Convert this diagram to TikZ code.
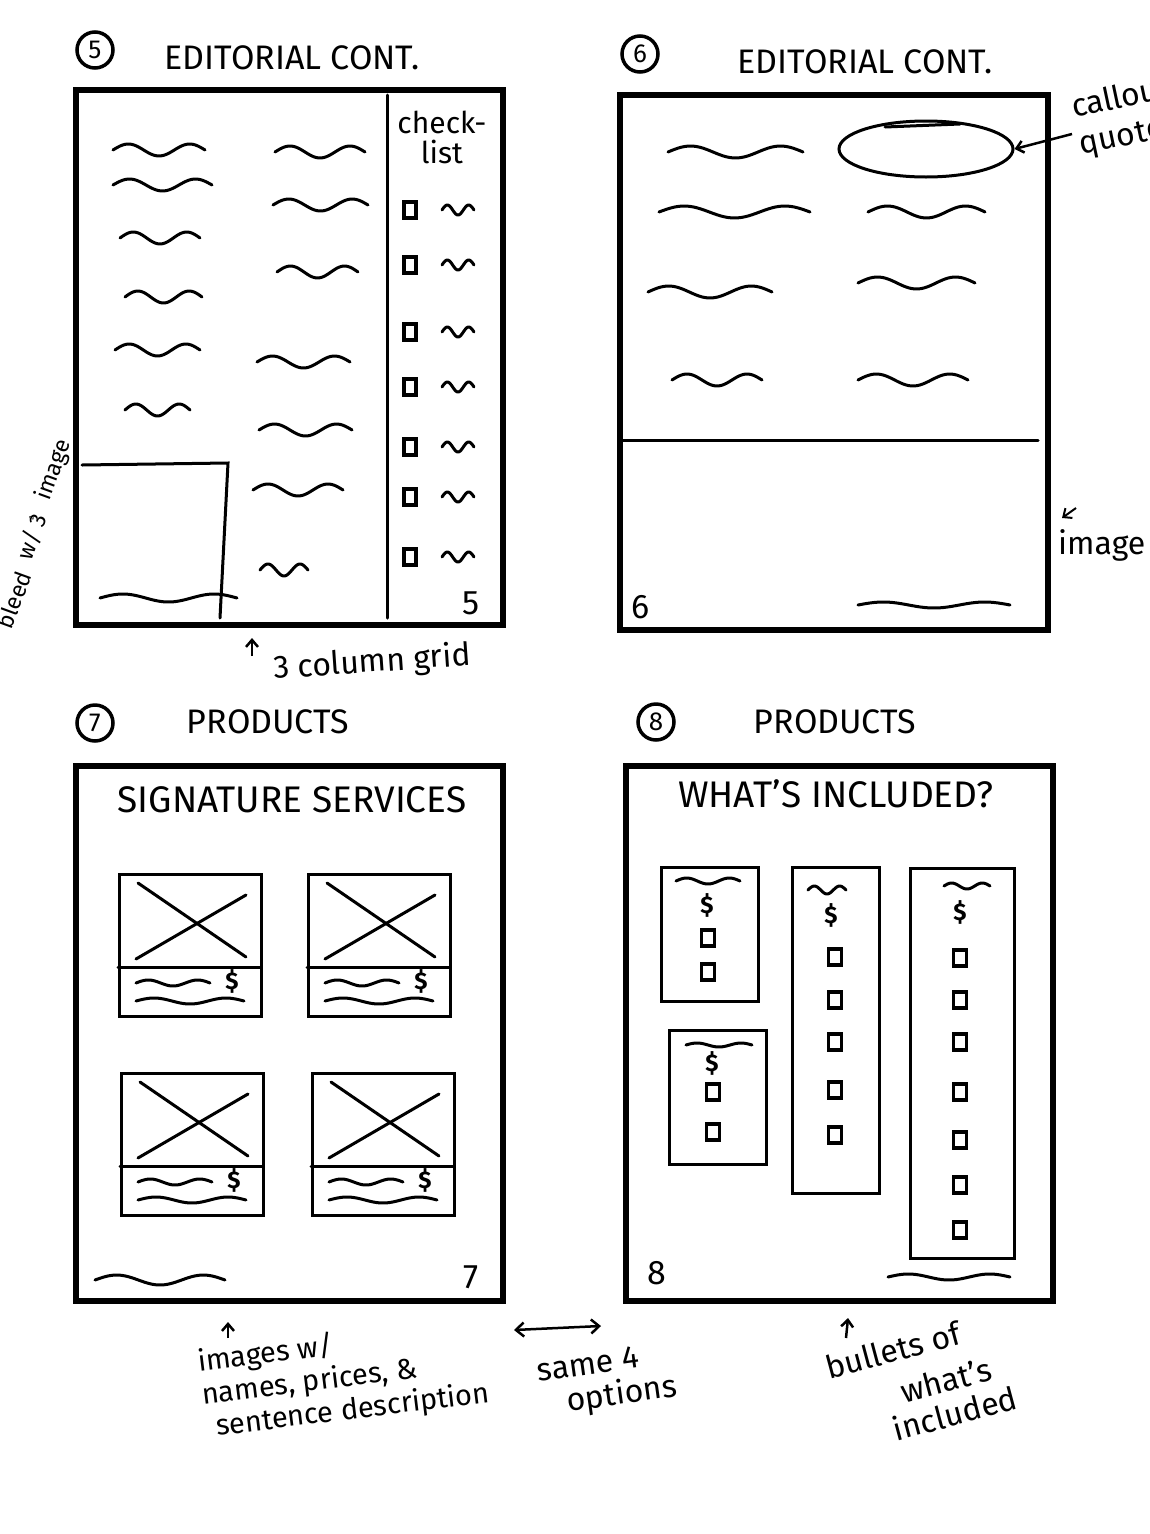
\documentclass[tikz,border=0pt]{standalone}
\usepackage{fontspec}
\setmainfont{Fira Sans}
\usetikzlibrary{positioning,shapes.geometric,arrows.meta}

\newcommand{\squig}[4][6]{%
  \pgfmathsetmacro\sqa{#2}\pgfmathsetmacro\sqb{#3}\pgfmathsetmacro\sqy{#4}%
  \pgfmathsetmacro\sqk{540/(\sqb-\sqa)}%
  \draw[squig] plot[variable=\t, domain=\sqa:\sqb, samples=40, smooth]
    (\t, {\sqy-#1*sin(\sqk*(\t-\sqa))});}

\begin{document}
\begin{tikzpicture}[
  x=1pt, y=-1pt,
  page/.style={draw, line width=5.5pt, inner sep=0pt, anchor=north west, minimum width=427pt, minimum height=535pt},
  rule/.style={line width=3pt, line cap=round},
  squig/.style={line width=3pt, line cap=round, line join=round},
  cbox/.style={draw, line width=3.2pt, minimum width=12pt, minimum height=16pt, inner sep=0pt},
  card/.style={draw, line width=3pt, inner sep=0pt, anchor=north west},
  num/.style={draw, circle, line width=3.5pt, inner sep=0pt, minimum size=36pt, font=\fontsize{26}{26}\selectfont},
  head/.style={font=\fontsize{34}{34}\selectfont},
  title/.style={font=\fontsize{37}{37}\selectfont},
  note/.style={font=\fontsize{32}{32}\selectfont, align=left, inner sep=0pt},
  side/.style={font=\fontsize{23}{23}\selectfont, rotate=70, inner sep=0pt},
  pgnum/.style={font=\fontsize{34}{34}\selectfont, inner sep=0pt},
  marrow/.style={-{Straight Barb[length=7pt,width=12pt]}, line width=2.5pt},
  darrow/.style={{Straight Barb[length=8pt,width=14pt]}-{Straight Barb[length=8pt,width=14pt]}, line width=2.5pt}
]
\useasboundingbox (0,0) rectangle (1150,1534);

% page 5
\node[num] (c5) at (95,50) {5};
\node[head] (h5) at (292,58) {EDITORIAL CONT.};
\node[page] (p5) at (73,87) {};
\draw[rule] (387,95) -- (387,618);
\draw[rule] (82,465) -- (228,463) -- (220,618);
\squig[4]{100}{237}{598}
\foreach \xa/\xb/\yy in {113/205/150, 113/212/185, 120/200/238, 125/202/297, 115/200/350, 125/190/410,
                         275/365/152, 273/368/205, 277/358/272, 257/350/362, 259/352/430, 253/343/490, 260/308/570}
  {\squig{\xa}{\xb}{\yy}}
\node[note, align=center, font=\fontsize{30}{30}\selectfont] (chk) at (442,137) {check-\\list};
\foreach \yy [count=\i] in {210,265,332,387,447,497,557} {
  \node[cbox] (cb\i) at (410,\yy) {};
  \squig[5]{442}{474}{\yy}
}
\node[pgnum] (n5) at (471,603) {5};
\node[note, rotate=4] (grid) at (372,663) {3 column grid};
\coordinate (gridtip) at (252,638);
\draw[marrow] (252,656) -- (gridtip);
\node[side] (bl1) at (54,470) {image};
\node[side] (bl2) at (32,537) {w/ \shortstack{\scriptsize 2\\[-6pt]3}};
\node[side] (bl3) at (14,600) {bleed};

% page 6
\node[num] (c6) at (640,54) {6};
\node[head] (h6) at (865,62) {EDITORIAL CONT.};
\node[page, minimum width=428pt] (p6) at (617,92) {};
\draw[rule] (623,440) -- (1038,440);
\node[draw, ellipse, line width=3pt, minimum width=174pt, minimum height=56pt] (quote) at (926,149) {};
\draw[squig] (885,127) -- (960,124);
\foreach \xa/\xb/\yy in {668/803/152, 659/810/212, 648/772/292, 672/762/380, 868/985/212, 858/975/283, 858/968/380}
  {\squig{\xa}{\xb}{\yy}}
\squig[3]{858}{1010}{605}
\node[pgnum] (n6) at (641,607) {6};
\node[note, rotate=12, anchor=west] (callout) at (1076,128) {callout\\[6pt]quote};
\coordinate (qtail) at (1072,134);
\draw[marrow] (qtail) -- (quote.east);
\node[note, anchor=west] (img6) at (1058,545) {image};
\coordinate (imgtip) at (1062,518);
\draw[marrow, line width=2pt] (1076,508) -- (imgtip);

% page 7
\node[num] (c7) at (95,723) {7};
\node[head] (h7) at (268,722) {PRODUCTS};
\node[page] (p7) at (73,763) {};
\node[title] (t7) at (292,800) {SIGNATURE SERVICES};
\foreach \cx/\cy [count=\i] in {118/873, 307/873, 120/1072, 311/1072} {
  \node[card, minimum width=142pt, minimum height=142pt] (sv\i) at (\cx,\cy) {};
  \draw[rule] (\cx,\cy+94) -- (\cx+142,\cy+94);
  \draw[rule] (\cx+20,\cy+10) -- (\cx+128,\cy+84);
  \draw[rule] (\cx+18,\cy+86) -- (\cx+128,\cy+22);
  \squig[3]{\cx+18}{\cx+92}{\cy+110}
  \squig[3]{\cx+18}{\cx+126}{\cy+128}
  \node[pgnum, font=\bfseries\fontsize{24}{24}\selectfont] (pr\i) at (\cx+114,\cy+108) {\$};
}
\squig[5]{95}{225}{1280}
\node[pgnum] (n7) at (471,1277) {7};
\node[note, rotate=7, anchor=north west, font=\fontsize{29}{33}\selectfont] (imgs) at (196,1348) {images w/\\names, prices, \&\\\hspace{10pt}sentence description};
\coordinate (imgstip) at (228,1322);
\draw[marrow] (228,1338) -- (imgstip);
\coordinate (sameL) at (514,1330);
\coordinate (sameR) at (601,1326);
\draw[darrow] (sameL) -- (sameR);
\node[note, rotate=8] (same1) at (588,1364) {same 4};
\node[note, rotate=8] (same2) at (622,1395) {options};

% page 8
\node[num] (c8) at (656,722) {8};
\node[head] (h8) at (835,722) {PRODUCTS};
\node[page] (p8) at (623,763) {};
\node[title] (t8) at (836,794) {WHAT'S INCLUDED?};
\node[card, minimum width=97pt, minimum height=134pt] (ka) at (660,866) {};
\node[card, minimum width=97pt, minimum height=134pt] (kb) at (668,1029) {};
\node[card, minimum width=87pt, minimum height=326pt] (kc) at (791,866) {};
\node[card, minimum width=104pt, minimum height=390pt] (kd) at (909,867) {};
\squig[3]{676}{740}{881}
\squig[2]{686}{752}{1045}
\squig[4]{808}{846}{890}
\squig[3]{944}{990}{886}
\foreach \cx/\cy/\n in {707/905/a, 712/1063/b, 831/915/c, 960/912/d}
  \node[pgnum, font=\bfseries\fontsize{24}{24}\selectfont] (dol\n) at (\cx,\cy) {\$};
\foreach \yy [count=\i] in {938,972} \node[cbox, minimum width=13pt] (ba\i) at (708,\yy) {};
\foreach \yy [count=\i] in {1092,1132} \node[cbox, minimum width=13pt] (bb\i) at (713,\yy) {};
\foreach \yy [count=\i] in {957,1000,1042,1090,1135} \node[cbox, minimum width=13pt] (bc\i) at (835,\yy) {};
\foreach \yy [count=\i] in {958,1000,1042,1092,1140,1185,1230} \node[cbox, minimum width=13pt] (bd\i) at (960,\yy) {};
\squig[3]{888}{1010}{1277}
\node[pgnum] (n8) at (657,1273) {8};
\coordinate (bultip) at (848,1318);
\draw[marrow] (846,1338) -- (bultip);
\node[note, rotate=15] (bu1) at (893,1350) {bullets of};
\node[note, rotate=15] (bu2) at (946,1380) {what's};
\node[note, rotate=15] (bu3) at (955,1413) {included};
\end{tikzpicture}
\end{document}
